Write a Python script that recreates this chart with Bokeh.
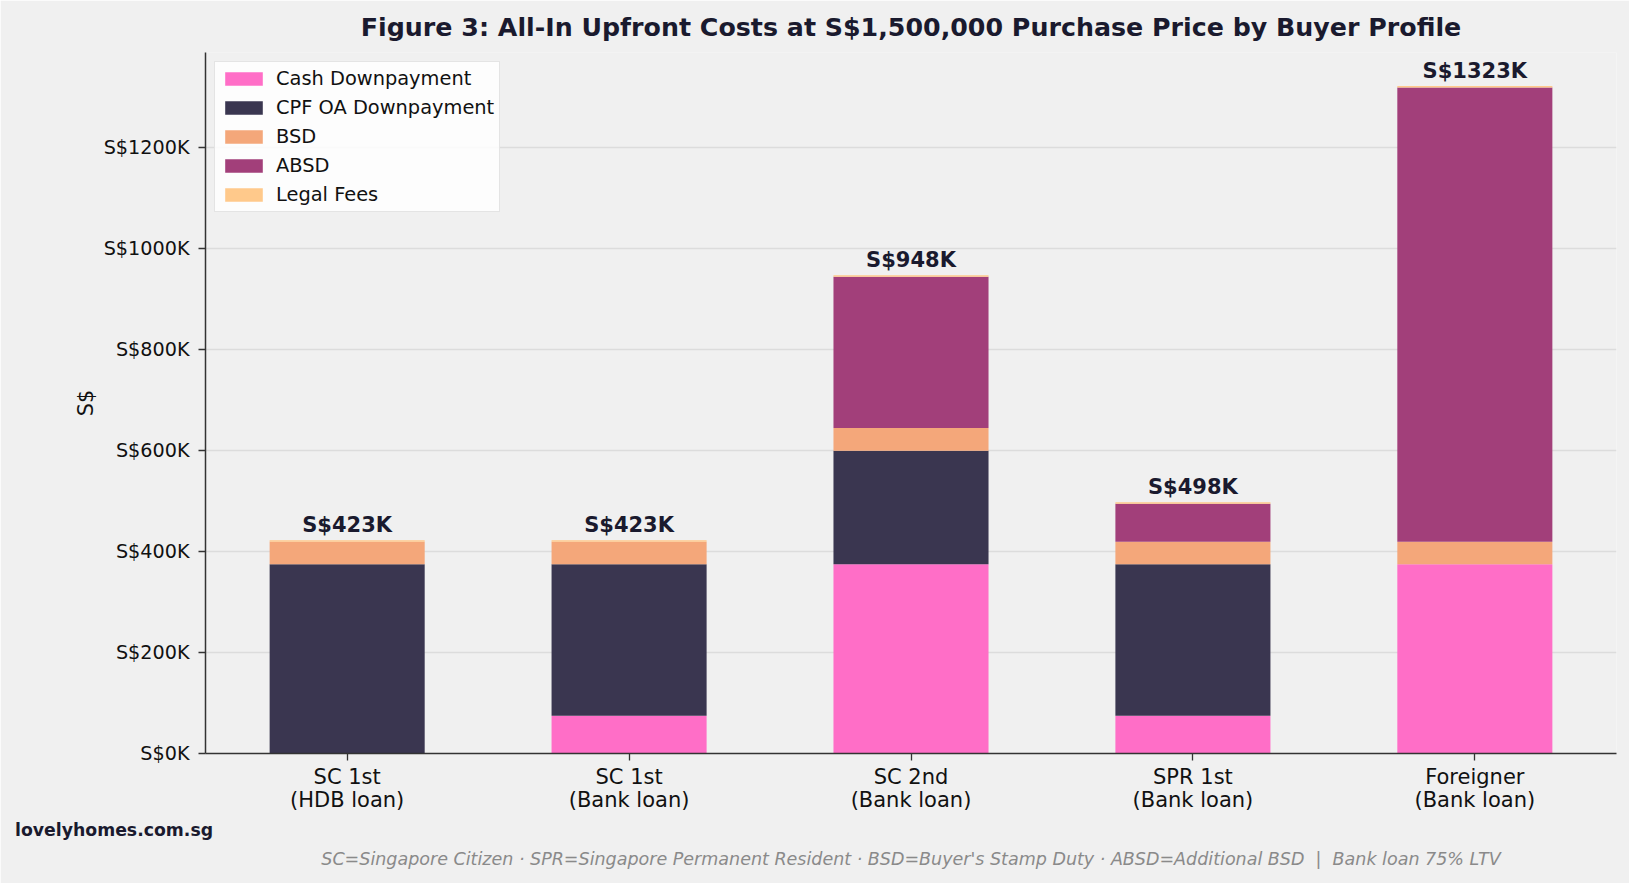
from bokeh.plotting import figure
from bokeh.models import (ColumnDataSource, FixedTicker, CustomJSTickFormatter,
                          Range1d, LabelSet, Title)
from bokeh.core.properties import value
from bokeh.embed import file_html
from bokeh.resources import INLINE

# Buyer profiles along the x axis
profiles = ["SC 1st\n(HDB loan)", "SC 1st\n(Bank loan)", "SC 2nd\n(Bank loan)",
            "SPR 1st\n(Bank loan)", "Foreigner\n(Bank loan)"]

# Upfront cost components (S$)
cash_down = [0, 75000, 375000, 75000, 375000]
cpf_down = [375000, 300000, 225000, 300000, 0]
bsd = [44600, 44600, 44600, 44600, 44600]
absd = [0, 0, 300000, 75000, 900000]
legal_fees = [3000, 3000, 3000, 3000, 3000]

components = ["Cash Downpayment", "CPF OA Downpayment", "BSD", "ABSD", "Legal Fees"]
keys = ["cash", "cpf", "bsd", "absd", "legal"]
colors = ["#ff6ec7", "#3a3650", "#f4a77a", "#a23f7a", "#ffc98b"]

y_ticks = [0, 200000, 400000, 600000, 800000, 1000000, 1200000]

BG = "#f0f0f0"
INK = "#1a1a2e"
FONT = "DejaVu Sans"

x = list(range(len(profiles)))
totals = [a + b + c + d + e for a, b, c, d, e in zip(cash_down, cpf_down, bsd, absd, legal_fees)]
labels = ["S$%dK" % round(t / 1000) for t in totals]

source = ColumnDataSource(dict(x=x, cash=cash_down, cpf=cpf_down, bsd=bsd,
                               absd=absd, legal=legal_fees, total=totals, label=labels))

p = figure(width=1629, height=883, output_backend="svg", toolbar_location=None,
           x_range=Range1d(-0.5025, 4.5025), y_range=Range1d(0, max(totals) * 1.05),
           min_border_left=205, min_border_right=13, min_border_top=52, min_border_bottom=130)
p.background_fill_color = BG
p.border_fill_color = BG
p.outline_line_color = None

# Title
p.title.text = "Figure 3: All-In Upfront Costs at S$1,500,000 Purchase Price by Buyer Profile"
p.title.align = "center"
p.title.vertical_align = "middle"
p.title.text_font = FONT
p.title.text_font_size = "25.3px"
p.title.text_font_style = "bold"
p.title.text_color = INK
p.title.standoff = 19

bars = p.vbar_stack(keys, x="x", width=0.55, source=source, color=colors,
                    line_color=None, legend_label=components)

# Totals above each stack
tot = LabelSet(x="x", y="total", text="label", source=source, text_align="center",
               text_baseline="alphabetic", y_offset=8, text_font=value(FONT),
               text_font_style="bold", text_font_size="21px", text_color=INK)
p.add_layout(tot)

# Axes
p.xaxis.ticker = FixedTicker(ticks=x)
p.xaxis.major_label_overrides = {i: s for i, s in zip(x, profiles)}
p.yaxis.ticker = FixedTicker(ticks=y_ticks)
p.yaxis.formatter = CustomJSTickFormatter(code='return "S$" + (tick / 1000).toFixed(0) + "K";')
for ax in (p.xaxis, p.yaxis):
    ax.axis_line_color = "#333333"
    ax.axis_line_width = 1.5
    ax.major_tick_line_color = "#333333"
    ax.major_tick_line_width = 1.3
    ax.major_tick_out = 7
    ax.major_tick_in = 0
    ax.minor_tick_line_color = None
    ax.major_label_text_font = FONT
    ax.major_label_text_color = "#111111"
p.xaxis.major_label_text_font_size = "21px"
p.xaxis.major_label_text_line_height = 0.96
p.xaxis.major_label_standoff = 4
p.yaxis.major_label_text_font_size = "19.2px"
p.yaxis.major_label_standoff = 9

p.yaxis.axis_label = "S$"
p.yaxis.axis_label_text_font = FONT
p.yaxis.axis_label_text_font_size = "20.8px"
p.yaxis.axis_label_text_font_style = "normal"
p.yaxis.axis_label_text_color = "#111111"
p.yaxis.axis_label_standoff = 3

p.xgrid.grid_line_color = None
p.ygrid.grid_line_color = "#dcdcdc"
p.ygrid.grid_line_width = 1.5
p.ygrid.ticker = FixedTicker(ticks=y_ticks)

# Legend (area swatches are drawn with a 10% inset, hence the wider glyph box)
lg = p.legend[0]
lg.location = "top_left"
lg.margin = 9
lg.padding = 5
lg.spacing = 6
lg.glyph_width = 47
lg.glyph_height = 17
lg.label_height = 20
lg.label_standoff = 9
lg.label_text_font = FONT
lg.label_text_font_size = "19.4px"
lg.label_text_color = "#111111"
lg.background_fill_color = "#ffffff"
lg.background_fill_alpha = 0.85
lg.border_line_color = "#cccccc"
lg.border_line_width = 1.2

# Site mark and footnote beneath the chart
p.add_layout(Title(text="lovelyhomes.com.sg", align="left", offset=-190.5,
                   text_font=FONT, text_font_size="17.3px", text_font_style="bold",
                   text_color=INK, standoff=6), "below")
p.add_layout(Title(text="SC=Singapore Citizen · SPR=Singapore Permanent Resident · "
                        "BSD=Buyer's Stamp Duty · ABSD=Additional BSD \u00a0|\u00a0 Bank loan 75% LTV",
                   align="center", text_font=FONT, text_font_size="17.5px",
                   text_font_style="italic", text_color="#8a8a8a", standoff=8), "below")

open("out.html", "w").write(file_html(p, INLINE))
